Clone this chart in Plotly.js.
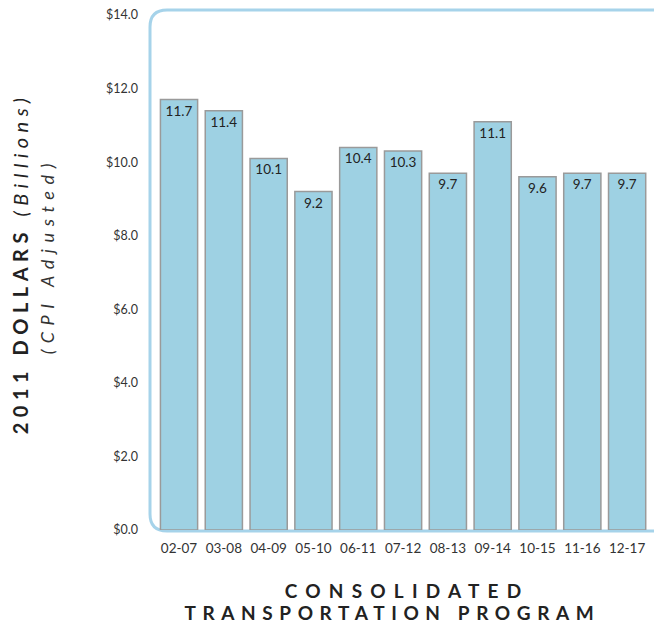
<!DOCTYPE html>
<html><head><meta charset="utf-8">
<script src="https://cdn.plot.ly/plotly-3.0.1.min.js"></script>
<style>
body{margin:0;background:#fff}
.annotation[data-index="0"] text{letter-spacing:8.2px}
.annotation[data-index="1"] text{letter-spacing:6.6px}
.annotation[data-index="2"] text{letter-spacing:5.5px}
.annotation[data-index="3"] text{letter-spacing:6.6px}
</style>
</head><body>
<div id="chart" style="width:654px;height:623px"></div>
<script>
const categories = ['02-07','03-08','04-09','05-10','06-11','07-12','08-13','09-14','10-15','11-16','12-17'];
const values = [11.7,11.4,10.1,9.2,10.4,10.3,9.7,11.1,9.6,9.7,9.7];
const valueLabels = ['11.7','11.4','10.1','9.2','10.4','10.3','9.7','11.1','9.6','9.7','9.7'];
const yTickVals = [0,2,4,6,8,10,12,14];
const yTickText = ['$0.0','$2.0','$4.0','$6.0','$8.0','$10.0','$12.0','$14.0'];
const xTitleLines = ['CONSOLIDATED','TRANSPORTATION PROGRAM'];
const yTitleLine1 = '<b>2011 DOLLARS</b> <i>(Billions)</i>';
const yTitleLine2 = '<i>(CPI Adjusted)</i>';

const L = 149, T = 15, W = 505, H = 515;
const px = x => (x - L) / W;
const py = y => (T + H - y) / H;

// rounded frame path in paper coords
const fx0 = px(150), fx1 = px(670), fy0 = py(10), fy1 = py(531);
const r = 17, rx = r / W, ry = r / H;
const framePath = `M ${fx1},${fy0} L ${fx0+rx},${fy0} Q ${fx0},${fy0} ${fx0},${fy0-ry} L ${fx0},${fy1+ry} Q ${fx0},${fy1} ${fx0+rx},${fy1} L ${fx1},${fy1}`;

const font = 'Lato, "Open Sans", sans-serif';

const data = [{
  type: 'bar',
  x: categories,
  y: values,
  text: valueLabels,
  textposition: 'inside',
  insidetextanchor: 'end',
  insidetextfont: {family: font, size: 13.5, color: '#222'},
  textangle: 0,
  marker: {color: '#9ed1e3', line: {color: '#9a9a9a', width: 1.5}},
  hoverinfo: 'none'
}];

const layout = {
  width: 654, height: 623,
  margin: {l: L, r: 654 - L - W, t: T, b: 623 - T - H},
  paper_bgcolor: '#fff', plot_bgcolor: 'rgba(0,0,0,0)',
  showlegend: false,
  bargap: 0.17,
  font: {family: font, color: '#333', size: 12},
  xaxis: {
    type: 'category',
    range: [-0.67, 10.6],
    showgrid: false, zeroline: false, showline: false,
    ticks: '', ticklabelstandoff: 8,
    tickfont: {family: font, size: 13.5, color: '#333'}
  },
  yaxis: {
    range: [0, 14],
    tickvals: yTickVals, ticktext: yTickText,
    showgrid: false, zeroline: false, showline: false,
    ticks: '', ticklabelstandoff: 10,
    tickfont: {family: font, size: 12.5, color: '#333'}
  },
  shapes: [{
    type: 'path', xref: 'paper', yref: 'paper', layer: 'below',
    path: framePath,
    line: {color: '#a6d3ea', width: 3}
  }],
  annotations: [
    {text: xTitleLines[0], xref: 'paper', yref: 'paper', x: px(407), y: py(590), xanchor: 'center', yanchor: 'middle', showarrow: false, font: {family: font, size: 19, color: '#222', weight: 700}},
    {text: xTitleLines[1], xref: 'paper', yref: 'paper', x: px(392), y: py(612), xanchor: 'center', yanchor: 'middle', showarrow: false, font: {family: font, size: 19, color: '#222', weight: 700}},
    {text: yTitleLine1, xref: 'paper', yref: 'paper', x: px(20), y: py(264), xanchor: 'center', yanchor: 'middle', textangle: -90, showarrow: false, font: {family: font, size: 20, color: '#222'}},
    {text: yTitleLine2, xref: 'paper', yref: 'paper', x: px(47), y: py(256), xanchor: 'center', yanchor: 'middle', textangle: -90, showarrow: false, font: {family: font, size: 18, color: '#333'}}
  ]
};

Plotly.newPlot('chart', data, layout, {displayModeBar: false, staticPlot: true});
</script>
</body></html>
